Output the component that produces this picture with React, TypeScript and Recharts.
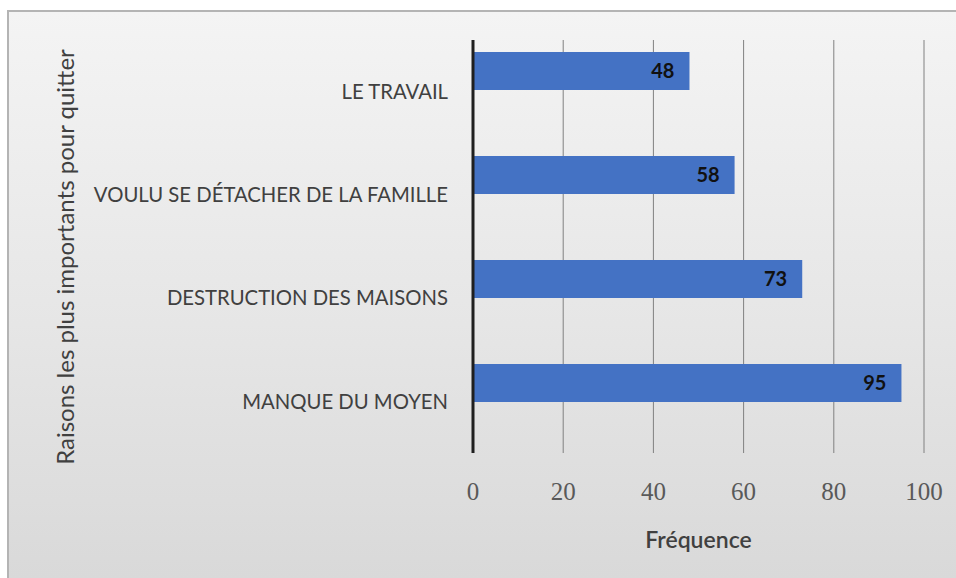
import { Bar, BarChart, CartesianGrid, Label, LabelList, XAxis, YAxis } from "recharts";

// categories, top to bottom
const reasons = [
  "LE TRAVAIL",
  "VOULU SE DÉTACHER DE LA FAMILLE",
  "DESTRUCTION DES MAISONS",
  "MANQUE DU MOYEN",
];
const frequencies = [48, 58, 73, 95];
const xTicks = [0, 20, 40, 60, 80, 100];

const data = reasons.map((name, i) => ({ name, value: frequencies[i] }));

const BAR_COLOR = "#4472C4";
const TEXT_COLOR = "#404040";

function YTitle() {
  return (
    <text
      x={55}
      y={245}
      transform="rotate(-90 55 245)"
      textAnchor="middle"
      dominantBaseline="central"
      fontFamily="Lato, sans-serif"
      fontSize={24}
      fill={TEXT_COLOR}
    >
      Raisons les plus importants  pour quitter
    </text>
  );
}

export default function App() {
  return (
    <div
      style={{
        position: "absolute",
        left: 7,
        top: 10,
        width: 949,
        height: 568,
        boxSizing: "border-box",
        borderTop: "2px solid #b4b4b4",
        borderLeft: "2px solid #b4b4b4",
        background: "linear-gradient(180deg, #f4f4f4 0%, #e6e6e6 55%, #d9d9d9 100%)",
      }}
    >
      <BarChart
        width={947}
        height={566}
        data={data}
        layout="vertical"
        margin={{ top: 28, right: 32, bottom: 0, left: 0 }}
      >
        <CartesianGrid
          yAxisId="labels"
          horizontal={false}
          stroke="#808080"
          strokeWidth={1}
        />
        <XAxis
          type="number"
          domain={[0, 100]}
          ticks={xTicks}
          axisLine={false}
          tickLine={false}
          tickSize={0}
          tickMargin={29}
          height={125}
          tick={{ fill: "#595959", fontSize: 25, fontFamily: "'Liberation Serif', serif" }}
        >
          <Label
            value="Fréquence"
            position="insideBottom"
            offset={30}
            fill={TEXT_COLOR}
            fontSize={23}
            fontWeight={600}
            fontFamily="Lato, sans-serif"
          />
        </XAxis>
        <YAxis
          yAxisId="labels"
          type="category"
          dataKey="name"
          width={464}
          axisLine={{ stroke: "#1f1f1f", strokeWidth: 3 }}
          tickLine={false}
          tickSize={0}
          tickMargin={25}
          tick={{ fill: TEXT_COLOR, fontSize: 20.3, fontFamily: "Lato, sans-serif" }}
        >
          <Label content={<YTitle />} />
        </YAxis>
        <YAxis
          yAxisId="bars"
          type="category"
          dataKey="name"
          hide
          width={0}
          padding={{ top: -21, bottom: 18 }}
        />
        <Bar
          yAxisId="bars"
          dataKey="value"
          fill={BAR_COLOR}
          barSize={38}
          isAnimationActive={false}
        >
          <LabelList
            dataKey="value"
            position="insideRight"
            offset={15}
            fill="#111"
            fontSize={20}
            fontWeight={700}
            fontFamily="Lato, sans-serif"
          />
        </Bar>
      </BarChart>
    </div>
  );
}
